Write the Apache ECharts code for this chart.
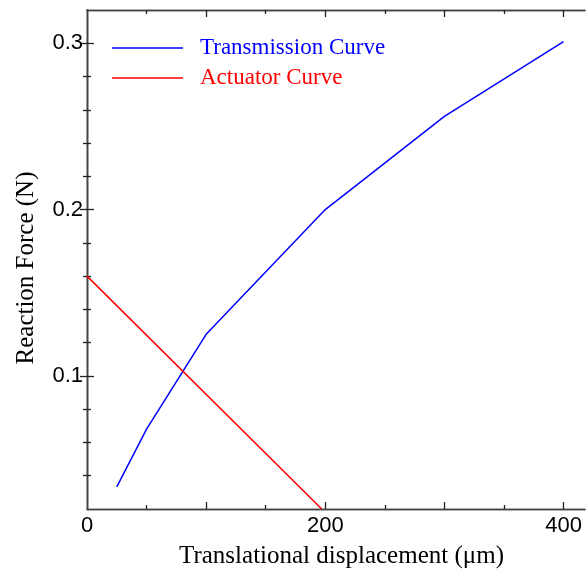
<!DOCTYPE html>
<html>
<head>
<meta charset="utf-8">
<script src="https://cdn.jsdelivr.net/npm/echarts@6/dist/echarts.min.js"></script>
<style>html,body{margin:0;padding:0;background:#fff}#c{width:587px;height:576px}</style>
</head>
<body>
<div id="c"></div>
<script>
// ---- data ----
const transX = [25, 50, 100, 200, 300, 400];
const transY = [0.0333, 0.068, 0.125, 0.2, 0.256, 0.301];
const actX = [0, 197];
const actY = [0.16, 0.02];
const seriesNames = ['Transmission Curve', 'Actuator Curve'];
// ---- ticks ----
const xLabelValues = [0, 200, 400];
const xMajorTicks = [100, 200, 300, 400];
const xMinorTicks = [50, 150, 250, 350];
const yLabelValues = [0.1, 0.2, 0.3];
const yMajorTicks = [0.1, 0.2, 0.3];
const yMinorTicks = [0.04, 0.06, 0.08, 0.12, 0.14, 0.16, 0.18, 0.22, 0.24, 0.26, 0.28];
const xMin = 0, xMax = 418, yMin = 0.02, yMax = 0.32;

const frameColor = '#444';
const sans = 'Liberation Sans';
const serif = 'Liberation Serif';

function xAx(pos, ticks, len, opts) {
  return Object.assign({
    type: 'value', position: pos, min: xMin, max: xMax,
    axisLine: { show: true, lineStyle: { color: frameColor, width: 1.3 } },
    axisTick: { show: true, inside: true, length: len, customValues: ticks, lineStyle: { color: '#222', width: 1.3 } },
    axisLabel: { show: false },
    splitLine: { show: false }
  }, opts || {});
}
function yAx(pos, ticks, len, opts) {
  return Object.assign({
    type: 'value', position: pos, min: yMin, max: yMax,
    axisLine: { show: true, lineStyle: { color: frameColor, width: 1.3 } },
    axisTick: { show: true, inside: true, length: len, customValues: ticks, lineStyle: { color: '#222', width: 1.3 } },
    axisLabel: { show: false },
    splitLine: { show: false }
  }, opts || {});
}

const chart = echarts.init(document.getElementById('c'));
chart.setOption({
  animation: false,
  backgroundColor: '#fff',
  grid: { left: 87, right: 2, top: 10, bottom: 67 },
  legend: {
    orient: 'vertical', left: 107, top: 31,
    itemWidth: 71, itemHeight: 1.5, itemGap: 6, icon: 'rect',
    textStyle: { fontFamily: serif, fontSize: 23, lineHeight: 24, padding: [0, 0, 0, 12] },
    data: [
      { name: seriesNames[0], textStyle: { color: '#0000ff' } },
      { name: seriesNames[1], textStyle: { color: '#ff0000' } }
    ]
  },
  xAxis: [
    xAx('bottom', xMajorTicks, 7, {
      axisLabel: { show: true, customValues: xLabelValues, margin: 6, fontFamily: sans, fontSize: 22, color: '#000' },
      name: 'Translational displacement (\u03bcm)', nameLocation: 'middle', nameGap: 35,
      nameTextStyle: { fontFamily: serif, fontSize: 25, color: '#000', padding: [0, 0, 0, 11] }
    }),
    xAx('bottom', xMinorTicks, 4),
    xAx('top', xMajorTicks, 7),
    xAx('top', xMinorTicks, 4)
  ],
  yAxis: [
    yAx('left', yMajorTicks, 7, {
      axisLabel: { show: true, customValues: yLabelValues, margin: 4, fontFamily: sans, fontSize: 22, color: '#000' },
      name: 'Reaction Force (N)', nameLocation: 'middle', nameGap: 48,
      nameTextStyle: { fontFamily: serif, fontSize: 25, color: '#000', padding: [0, 17, 0, 0] }
    }),
    yAx('left', yMinorTicks, 4),
    yAx('right', yMajorTicks, 7),
    yAx('right', yMinorTicks, 4)
  ],
  series: [
    {
      name: seriesNames[0], type: 'line', xAxisIndex: 0, yAxisIndex: 0,
      symbol: 'none', lineStyle: { color: '#0000ff', width: 1.5 }, itemStyle: { color: '#0000ff' },
      data: transX.map((x, i) => [x, transY[i]])
    },
    {
      name: seriesNames[1], type: 'line', xAxisIndex: 0, yAxisIndex: 0,
      symbol: 'none', lineStyle: { color: '#ff0000', width: 1.5 }, itemStyle: { color: '#ff0000' },
      data: actX.map((x, i) => [x, actY[i]])
    }
  ]
});
</script>
</body>
</html>
